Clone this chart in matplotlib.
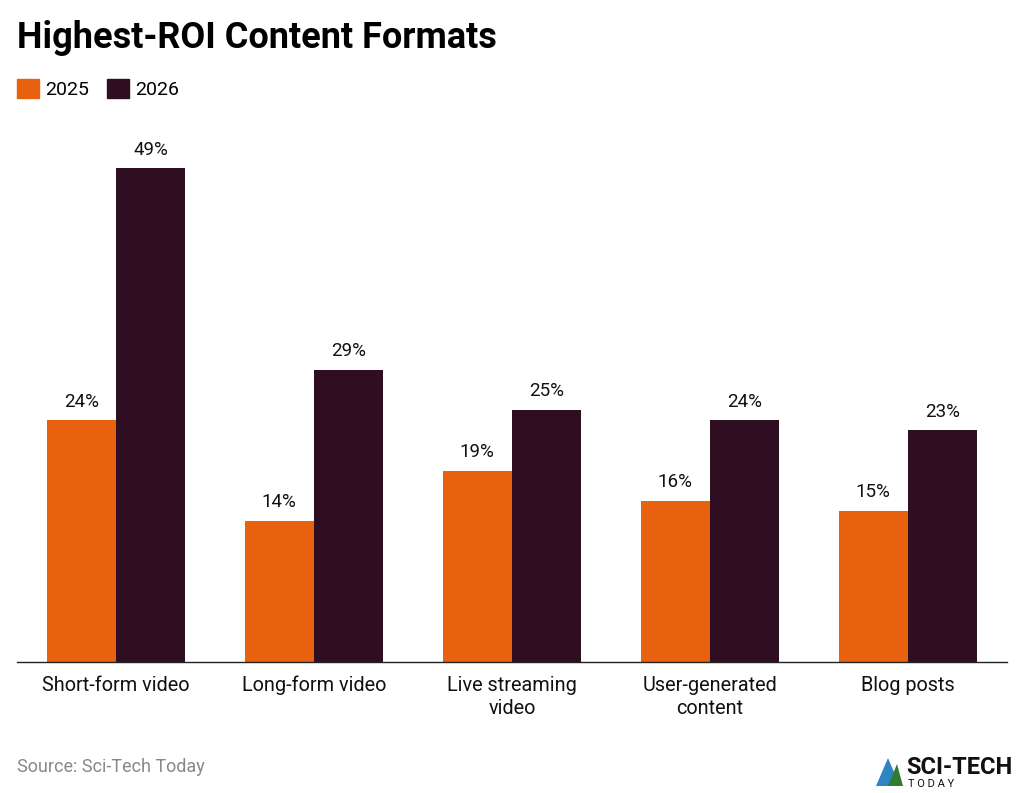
import matplotlib.pyplot as plt
from matplotlib.patches import Patch, Polygon
import numpy as np

plt.rcParams['font.family'] = ['Roboto', 'DejaVu Sans']

categories = ["Short-form video", "Long-form video", "Live streaming\nvideo",
              "User-generated\ncontent", "Blog posts"]
share_2025 = [24, 14, 19, 16, 15]
share_2026 = [49, 29, 25, 24, 23]

orange = "#E8610F"
plum = "#300E22"

fig = plt.figure(figsize=(10.24, 7.93), dpi=100)
ax = fig.add_axes([17 / 1024, 1 - 662 / 793, 990 / 1024, (662 - 118) / 793])

x = np.arange(len(categories))
w = 0.35
b1 = ax.bar(x - w / 2, share_2025, w, color=orange, label="2025")
b2 = ax.bar(x + w / 2, share_2026, w, color=plum, label="2026")
ax.bar_label(b1, labels=[f"{v}%" for v in share_2025], padding=7, fontsize=13.5, color="#111111")
ax.bar_label(b2, labels=[f"{v}%" for v in share_2026], padding=7, fontsize=13.5, color="#111111")

ax.set_xlim(-0.5, len(categories) - 0.5)
ax.set_ylim(0, 54)
ax.set_xticks(x)
ax.set_xticklabels(categories, fontsize=14.3, color="#111111", linespacing=1.3)
ax.tick_params(axis="x", length=0, pad=10)
ax.set_yticks([])
for s in ["top", "right", "left"]:
    ax.spines[s].set_visible(False)
ax.spines["bottom"].set_color("#222222")
ax.spines["bottom"].set_linewidth(1.0)

fig.text(17 / 1024, 1 - 38 / 793, "Highest-ROI Content Formats", fontsize=26,
         fontweight="bold", va="center", ha="left", color="#000000")

handles = [Patch(color=orange, label="2025"), Patch(color=plum, label="2026")]
fig.legend(handles=handles, loc="center left", bbox_to_anchor=(17 / 1024, 1 - 89 / 793),
           ncol=2, frameon=False, fontsize=14, handlelength=1.15, handleheight=1.15,
           handletextpad=0.3, columnspacing=0.9, borderpad=0, borderaxespad=0)

fig.text(17 / 1024, 1 - 767 / 793, "Source: Sci-Tech Today", fontsize=13,
         color="#888888", va="center", ha="left")

# logo
tri = Polygon([[876 / 1024, 1 - 786 / 793], [900 / 1024, 1 - 786 / 793], [888 / 1024, 1 - 758 / 793]],
              closed=True, transform=fig.transFigure, facecolor="#2E86C1", edgecolor="none")
fig.patches.append(tri)
tri2 = Polygon([[888 / 1024, 1 - 786 / 793], [903 / 1024, 1 - 786 / 793], [897 / 1024, 1 - 764 / 793]],
               closed=True, transform=fig.transFigure, facecolor="#2E7D32", edgecolor="none")
fig.patches.append(tri2)
fig.text(906 / 1024, 1 - 768 / 793, "SCI-TECH", fontsize=17, fontweight="bold",
         color="#111111", va="center", ha="left")
fig.text(908 / 1024, 1 - 784 / 793, "T O D A Y", fontsize=8, color="#111111",
         va="center", ha="left")

fig.savefig("out.png", dpi=100, facecolor="white")
